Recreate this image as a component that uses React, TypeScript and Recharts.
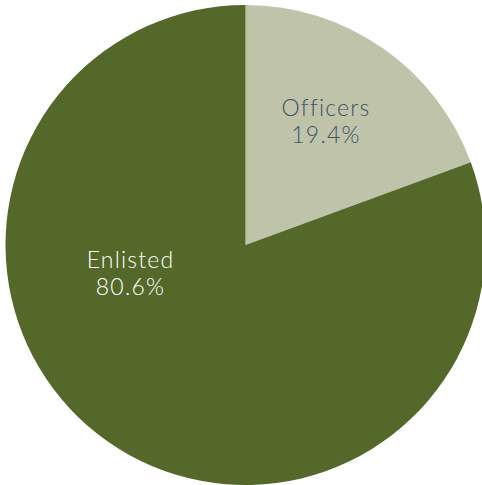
import React from 'react';
import { PieChart, Pie, Cell } from 'recharts';

const categories = ['Officers', 'Enlisted'];
const shares = [19.4, 80.6];
const colors = ['#BEC3AA', '#536829'];
const labelColors = ['#3E5264', '#FFFFFF'];

const data = categories.map((name, i) => ({ name, value: shares[i] }));

const labelOffsets = [
  { dx: 80.5, dy: -129 },
  { dx: -115, dy: 23 },
];

const renderLabel = (props: any) => {
  const { cx, cy, index, payload } = props;
  const o = labelOffsets[index];
  const x = cx + o.dx;
  const y = cy + o.dy;
  const name = payload?.name ?? categories[index];
  const val = shares[index];
  return (
    <text
      x={x}
      y={y}
      textAnchor="middle"
      fill={labelColors[index]}
      fontFamily="Lato, 'Noto Sans', sans-serif"
      fontSize={23}
      fontWeight={300}
      letterSpacing={1.2}
    >
      <tspan x={x} dy={0}>{name}</tspan>
      <tspan x={x} dy={26.5}>{val.toFixed(1)}%</tspan>
    </text>
  );
};

export default function App() {
  return (
    <div style={{ position: 'absolute', left: 0, top: 0, width: 482, height: 485, background: '#fff' }}>
      <PieChart width={482} height={485} margin={{ top: 0, right: 0, bottom: 0, left: 0 }}>
        <Pie
          data={data}
          dataKey="value"
          nameKey="name"
          cx={245.5}
          cy={245}
          outerRadius={240}
          startAngle={90}
          endAngle={-270}
          stroke="none"
          label={renderLabel}
          labelLine={false}
          isAnimationActive={false}
        >
          {data.map((d, i) => (
            <Cell key={d.name} fill={colors[i]} />
          ))}
        </Pie>
      </PieChart>
    </div>
  );
}
